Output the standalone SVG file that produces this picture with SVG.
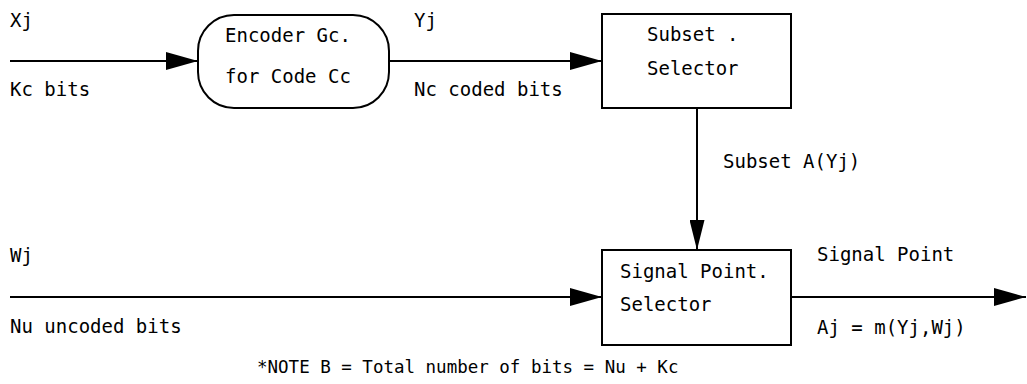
<svg xmlns="http://www.w3.org/2000/svg" width="1027" height="384" viewBox="0 0 1027 384">
  <defs>
    <style>
      text { font-family: "DejaVu Sans Mono", "Liberation Mono", monospace; font-size: 19px; fill: #000; }
      text.note { font-size: 17.5px; }
      .box { fill: #fff; stroke: #000; stroke-width: 2; }
      .wire { fill: none; stroke: #000; stroke-width: 2; }
    </style>
    <marker id="arrow" viewBox="0 0 32 18" refX="32" refY="9" markerWidth="32" markerHeight="18" markerUnits="userSpaceOnUse" orient="auto">
      <path d="M0,0 L32,9 L0,18 Z" fill="#000"/>
    </marker>
    <marker id="arrow-slim" viewBox="0 0 30 15" refX="30" refY="7.5" markerWidth="30" markerHeight="15" markerUnits="userSpaceOnUse" orient="auto">
      <path d="M0,0 L30,7.5 L0,15 Z" fill="#000"/>
    </marker>
  </defs>

  <!-- connectors -->
  <g id="connectors">
    <line class="wire" x1="10" y1="61" x2="198" y2="61" marker-end="url(#arrow)"/>
    <line class="wire" x1="389" y1="61" x2="602" y2="61" marker-end="url(#arrow)"/>
    <line class="wire" x1="697" y1="108" x2="697" y2="250" marker-end="url(#arrow-slim)"/>
    <line class="wire" x1="10" y1="297" x2="602" y2="297" marker-end="url(#arrow)"/>
    <line class="wire" x1="791" y1="297" x2="1026" y2="297" marker-end="url(#arrow)"/>
  </g>

  <!-- connector labels -->
  <g id="labels">
    <text x="10" y="27">Xj</text>
    <text x="10" y="96">Kc bits</text>
    <text x="414" y="27">Yj</text>
    <text x="414" y="96">Nc coded bits</text>
    <text x="723" y="168">Subset A(Yj)</text>
    <text x="10" y="262">Wj</text>
    <text x="10" y="333">Nu uncoded bits</text>
    <text x="817" y="261">Signal Point</text>
    <text x="817" y="334">Aj = m(Yj,Wj)</text>
    <text class="note" x="257" y="373">*NOTE B = Total number of bits = Nu + Kc</text>
  </g>

  <!-- encoder -->
  <g id="encoder">
    <rect class="box" x="198" y="15" width="191" height="93" rx="36" ry="36"/>
    <text x="225" y="42">Encoder Gc.</text>
    <text x="225" y="83">for Code Cc</text>
  </g>

  <!-- subset selector -->
  <g id="subset-selector">
    <rect class="box" x="602" y="14" width="189" height="94"/>
    <text x="647" y="41">Subset .</text>
    <text x="647" y="75">Selector</text>
  </g>

  <!-- signal point selector -->
  <g id="signal-point-selector">
    <rect class="box" x="602" y="250" width="189" height="95"/>
    <text x="620" y="278">Signal Point.</text>
    <text x="620" y="311">Selector</text>
  </g>
</svg>
